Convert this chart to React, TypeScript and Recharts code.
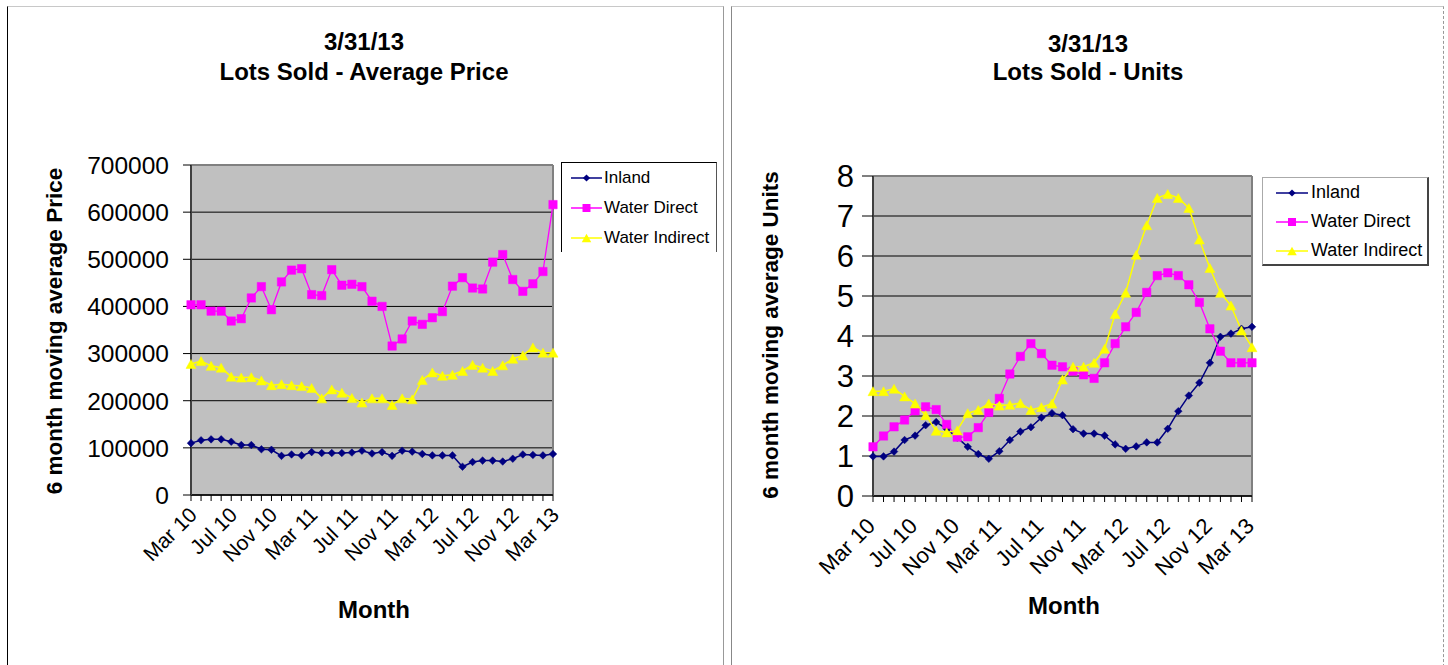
import React from 'react';
import { LineChart, Line, XAxis, YAxis, CartesianGrid, Legend } from 'recharts';

const months = ['Mar 10','Apr 10','May 10','Jun 10','Jul 10','Aug 10','Sep 10','Oct 10','Nov 10','Dec 10','Jan 11','Feb 11','Mar 11','Apr 11','May 11','Jun 11','Jul 11','Aug 11','Sep 11','Oct 11','Nov 11','Dec 11','Jan 12','Feb 12','Mar 12','Apr 12','May 12','Jun 12','Jul 12','Aug 12','Sep 12','Oct 12','Nov 12','Dec 12','Jan 13','Feb 13','Mar 13'];

const seriesNames = ['Inland', 'Water Direct', 'Water Indirect'];

const inlandPrice = [110000,116000,118000,118000,113000,106000,106000,97000,96000,83000,86000,84000,91000,89000,89000,89000,90000,94000,88000,91000,83000,94000,92000,87000,84000,84000,84000,60000,70000,73000,73000,71000,77000,86000,85000,84000,87000];
const waterDirectPrice = [403500,403500,390000,390000,369000,374000,418000,442000,393000,452000,477000,480000,425000,423000,478000,445000,447000,442000,411000,400000,316000,331000,369000,362000,376000,389000,443000,461000,439000,437000,494000,510000,457000,432000,448000,474000,616000];
const waterIndirectPrice = [278000,284000,274000,270000,251000,249000,250000,243000,233000,235000,233000,231000,227000,205000,224000,217000,206000,196000,205000,205000,191000,205000,203000,244000,260000,253000,255000,263000,276000,270000,263000,275000,289000,296000,313000,302000,302000];

const inlandUnits = [0.99,0.99,1.11,1.40,1.51,1.77,1.85,1.68,1.46,1.23,1.05,0.93,1.12,1.40,1.61,1.72,1.96,2.07,2.02,1.67,1.56,1.56,1.51,1.29,1.18,1.24,1.34,1.34,1.68,2.12,2.51,2.83,3.33,3.98,4.06,4.18,4.23];
const waterDirectUnits = [1.23,1.50,1.73,1.90,2.13,2.23,2.16,1.79,1.47,1.48,1.71,2.09,2.44,3.05,3.49,3.81,3.56,3.27,3.23,3.12,3.03,2.94,3.33,3.81,4.23,4.59,5.09,5.51,5.58,5.51,5.28,4.84,4.18,3.62,3.33,3.33,3.33];
const waterIndirectUnits = [2.62,2.62,2.68,2.49,2.31,2.02,1.63,1.59,1.64,2.07,2.15,2.31,2.26,2.28,2.32,2.15,2.22,2.31,2.91,3.23,3.23,3.33,3.68,4.55,5.08,6.03,6.77,7.45,7.55,7.45,7.20,6.41,5.70,5.08,4.76,4.14,3.72];

const priceTicks = [0,100000,200000,300000,400000,500000,600000,700000];
const unitTicks = [0,1,2,3,4,5,6,7,8];

const priceData = months.map((m, i) => ({ month: m, inland: inlandPrice[i], direct: waterDirectPrice[i], indirect: waterIndirectPrice[i] }));
const unitData = months.map((m, i) => ({ month: m, inland: inlandUnits[i], direct: waterDirectUnits[i], indirect: waterIndirectUnits[i] }));

const FONT = '"Liberation Sans", Arial, sans-serif';
const COLORS: Record<string, string> = { inland: '#000080', direct: '#FF00FF', indirect: '#FFFF00' };
const KEYS = ['inland', 'direct', 'indirect'];

function markerPath(kind: string, cx: number, cy: number, s: number) {
  if (kind === 'inland') {
    const r = 3.8 * s;
    return `M${cx},${cy - r}L${cx + r},${cy}L${cx},${cy + r}L${cx - r},${cy}Z`;
  }
  if (kind === 'direct') {
    const r = 4.2 * s;
    return `M${cx - r},${cy - r}L${cx + r},${cy - r}L${cx + r},${cy + r}L${cx - r},${cy + r}Z`;
  }
  const w = 5 * s, h = 4.5 * s;
  return `M${cx},${cy - h}L${cx + w},${cy + h}L${cx - w},${cy + h}Z`;
}

const makeDot = (kind: string, s: number) => (p: any) => {
  if (p.cx == null || p.cy == null) return <g key={`d-${kind}-${p.index}`} />;
  return <path key={`d-${kind}-${p.index}`} d={markerPath(kind, p.cx, p.cy, s)} fill={COLORS[kind]} stroke={COLORS[kind]} strokeWidth={0.5} />;
};

type PanelProps = {
  data: any[];
  width: number;
  height: number;
  plot: { l: number; t: number; r: number; b: number };
  yTicks: number[];
  yMax: number;
  yTickFont: number;
  yTickMargin: number;
  yTickSize: number;
  xTickFont: number;
  xdx: number;
  xdy: number;
  legend: { left: number; top: number; width: number; height: number; rows: number[]; lineX1: number; lineX2: number; textX: number; font: number; style: React.CSSProperties };
  markerScale: number;
};

function Panel(props: PanelProps) {
  const { data, width, height, plot, yTicks, yMax } = props;
  const XH = 100;
  const margin = { top: plot.t, right: width - plot.r, bottom: height - plot.b - XH, left: 0 };

  const xTick = (p: any) => {
    const idx = p.index;
    if (idx % 4 !== 0) return <g key={`xt-${idx}`} />;
    const ax = p.x + props.xdx;
    const ay = p.y + props.xdy;
    return (
      <text key={`xt-${idx}`} x={ax} y={ay} dy="0.35em" textAnchor="end" transform={`rotate(-45 ${ax} ${ay})`} fontSize={props.xTickFont} fontFamily={FONT} fill="#000">
        {p.payload.value}
      </text>
    );
  };
  const yTick = (p: any) => (
    <text key={`yt-${p.index}`} x={p.x} y={p.y} dy="0.36em" textAnchor="end" fontSize={props.yTickFont} fontFamily={FONT} fill="#000">
      {p.payload.value}
    </text>
  );
  const hLine = (p: any) => {
    const top = Math.abs(p.y1 - plot.t) < 1;
    return <line key={`hl-${p.index}`} x1={p.x1} x2={p.x2} y1={p.y1} y2={p.y2} stroke={top ? '#808080' : '#000'} strokeWidth={top ? 2 : 1} />;
  };
  const vLine = (p: any) => <line key={`vl-${p.index}`} x1={p.x1} x2={p.x2} y1={p.y1} y2={p.y2} stroke="#808080" strokeWidth={2} />;

  const lg = props.legend;
  const legendContent = () => (
    <div style={{ position: 'relative', width: lg.width, height: lg.height, boxSizing: 'border-box', background: '#fff', ...lg.style }}>
      {KEYS.map((k, i) => {
        const cy = lg.rows[i];
        const mid = (lg.lineX1 + lg.lineX2) / 2;
        return (
          <React.Fragment key={k}>
            <svg style={{ position: 'absolute', left: 0, top: 0, overflow: 'visible' }} width={lg.width} height={lg.height}>
              <line x1={lg.lineX1} x2={lg.lineX2} y1={cy} y2={cy} stroke={COLORS[k]} strokeWidth={1.5} />
              <path d={markerPath(k, mid, cy, 0.95)} fill={COLORS[k]} />
            </svg>
            <div style={{ position: 'absolute', left: lg.textX, top: cy - lg.font * 0.6, fontSize: lg.font, fontFamily: FONT, color: '#000', whiteSpace: 'nowrap', lineHeight: `${lg.font * 1.2}px` }}>
              {seriesNames[i]}
            </div>
          </React.Fragment>
        );
      })}
    </div>
  );

  return (
    <LineChart width={width} height={height} data={data} margin={margin}>
      <CartesianGrid fill="#C0C0C0" horizontal={hLine} vertical={vLine} verticalPoints={[plot.r]} />
      <XAxis
        dataKey="month"
        interval={0}
        height={XH}
        tick={xTick}
        tickSize={6}
        tickMargin={0}
        tickLine={{ stroke: '#000' }}
        axisLine={{ stroke: '#000', strokeWidth: 1.5 }}
      />
      <YAxis
        width={plot.l}
        domain={[0, yMax]}
        ticks={yTicks}
        interval={0}
        tick={yTick}
        tickSize={props.yTickSize}
        tickMargin={props.yTickMargin}
        tickLine={{ stroke: '#000' }}
        axisLine={{ stroke: '#404040', strokeWidth: 2 }}
      />
      <Legend layout="vertical" align="center" verticalAlign="middle" content={legendContent} wrapperStyle={{ left: lg.left, top: lg.top, width: lg.width, height: lg.height }} />
      {KEYS.map((k, i) => (
        <Line
          key={k}
          type="linear"
          dataKey={k}
          name={seriesNames[i]}
          stroke={COLORS[k]}
          strokeWidth={k === 'direct' ? 1.3 : 1.5}
          dot={makeDot(k, props.markerScale)}
          activeDot={false}
          isAnimationActive={false}
        />
      ))}
    </LineChart>
  );
}

const textBase: React.CSSProperties = { position: 'absolute', fontFamily: FONT, color: '#000', whiteSpace: 'nowrap', transform: 'translate(-50%, -50%)', lineHeight: 1 };

export default function App() {
  return (
    <div style={{ position: 'absolute', left: 0, top: 0, width: 1448, height: 665, background: '#fff', overflow: 'hidden' }}>
      {/* panel frames */}
      <div style={{ position: 'absolute', left: 7, top: 6, width: 715, height: 680, borderLeft: '1px solid #000', borderTop: '1px solid #c8c8c8', borderRight: '1px solid #999' }} />
      <div style={{ position: 'absolute', left: 731, top: 6, width: 711, height: 680, borderLeft: '1px solid #888', borderTop: '1px solid #c8c8c8', borderRight: '1px dashed #999' }} />

      <div style={{ position: 'absolute', left: 0, top: 0 }}>
        <Panel
          data={priceData}
          width={730}
          height={665}
          plot={{ l: 191, t: 165, r: 553, b: 495 }}
          yTicks={priceTicks}
          yMax={700000}
          yTickFont={24.5}
          yTickMargin={14}
          yTickSize={8}
          xTickFont={21}
          xdx={2}
          xdy={10}
          markerScale={1}
          legend={{ left: 561, top: 162, width: 156, height: 90, rows: [15, 45, 75], lineX1: 9, lineX2: 40, textX: 42, font: 17, style: { borderLeft: '1px solid #000', borderTop: '1px solid #000', borderRight: '1px solid #555' } }}
        />
      </div>
      <div style={{ position: 'absolute', left: 730, top: 0 }}>
        <Panel
          data={unitData}
          width={718}
          height={665}
          plot={{ l: 143, t: 176, r: 522, b: 496 }}
          yTicks={unitTicks}
          yMax={8}
          yTickFont={31}
          yTickMargin={8}
          yTickSize={11}
          xTickFont={22}
          xdx={-2}
          xdy={20}
          markerScale={1}
          legend={{ left: 532, top: 177, width: 167, height: 89, rows: [15, 44, 73], lineX1: 13, lineX2: 45, textX: 48, font: 18, style: { borderLeft: '1px solid #aaa', borderTop: '1px solid #aaa', borderRight: '2px solid #444', borderBottom: '2px solid #444' } }}
        />
      </div>

      {/* titles */}
      <div style={{ ...textBase, left: 364, top: 42, fontSize: 24, fontWeight: 'bold' }}>3/31/13</div>
      <div style={{ ...textBase, left: 364, top: 72, fontSize: 24, fontWeight: 'bold' }}>Lots Sold - Average Price</div>
      <div style={{ ...textBase, left: 1088, top: 44, fontSize: 24, fontWeight: 'bold' }}>3/31/13</div>
      <div style={{ ...textBase, left: 1088, top: 72, fontSize: 24, fontWeight: 'bold' }}>Lots Sold - Units</div>

      {/* axis titles */}
      <div style={{ ...textBase, left: 55, top: 331, fontSize: 22.5, fontWeight: 'bold', transform: 'translate(-50%, -50%) rotate(-90deg)' }}>6 month moving average Price</div>
      <div style={{ ...textBase, left: 771, top: 335, fontSize: 22.5, fontWeight: 'bold', transform: 'translate(-50%, -50%) rotate(-90deg)' }}>6 month moving average Units</div>
      <div style={{ ...textBase, left: 374, top: 610, fontSize: 24, fontWeight: 'bold' }}>Month</div>
      <div style={{ ...textBase, left: 1064, top: 606, fontSize: 24, fontWeight: 'bold' }}>Month</div>
    </div>
  );
}
